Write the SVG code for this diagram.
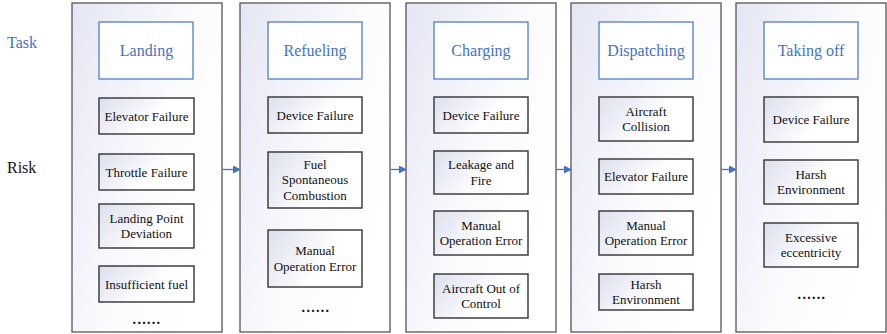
<svg xmlns="http://www.w3.org/2000/svg" width="887" height="334" viewBox="0 0 887 334">
<defs>
<linearGradient id="gOuter" x1="0" y1="0" x2="1" y2="0.6">
<stop offset="0" stop-color="#e4e6f4"/>
<stop offset="0.6" stop-color="#fbfbfe"/>
<stop offset="1" stop-color="#ffffff"/>
</linearGradient>
<linearGradient id="gRisk" x1="0" y1="0" x2="1" y2="0.4">
<stop offset="0" stop-color="#dcdfee"/>
<stop offset="0.7" stop-color="#ffffff"/>
<stop offset="1" stop-color="#ffffff"/>
</linearGradient>
<marker id="arr" markerWidth="8" markerHeight="8" refX="7" refY="4" orient="auto" markerUnits="userSpaceOnUse">
<path d="M0,0 L8,4 L0,8 Z" fill="#4472C4"/>
</marker>
<rect id="outerBox" width="150" height="329" fill="url(#gOuter)" stroke="#555" stroke-width="1.3"/>
<rect id="taskBox" width="94" height="57" fill="#fff" stroke="#4472C4" stroke-width="1.2"/>
</defs>
<text x="7" y="48" font-family="Liberation Serif" font-size="16" fill="#4472C4">Task</text>
<text x="7" y="173" font-family="Liberation Serif" font-size="16" fill="#111">Risk</text>

<g id="landing" fill="url(#gRisk)" stroke="#333" stroke-width="1.4">
<use href="#outerBox" x="72" y="3"/>
<use href="#taskBox" x="99" y="22"/>
<rect x="99" y="98" width="95" height="36"/>
<rect x="99" y="154" width="95" height="36"/>
<rect x="99" y="204" width="95" height="44"/>
<rect x="99" y="266" width="95" height="36"/>
<text x="146.5" y="55.5" font-family="Liberation Serif" font-size="16" fill="#4472C4" stroke="none" text-anchor="middle">Landing</text>
<text x="146.5" y="120.5" font-family="Liberation Serif" font-size="13" fill="#111" stroke="none" text-anchor="middle">Elevator Failure</text>
<text x="146.5" y="176.5" font-family="Liberation Serif" font-size="13" fill="#111" stroke="none" text-anchor="middle">Throttle Failure</text>
<text x="146.5" y="222.5" font-family="Liberation Serif" font-size="13" fill="#111" stroke="none" text-anchor="middle">Landing Point</text>
<text x="146.5" y="237.5" font-family="Liberation Serif" font-size="13" fill="#111" stroke="none" text-anchor="middle">Deviation</text>
<text x="146.5" y="288.5" font-family="Liberation Serif" font-size="13" fill="#111" stroke="none" text-anchor="middle">Insufficient fuel</text>
<text x="147" y="324" font-family="Liberation Serif" font-size="14" font-weight="bold" letter-spacing="1.3" fill="#111" stroke="none" text-anchor="middle">......</text>
</g>

<g id="refueling" fill="url(#gRisk)" stroke="#333" stroke-width="1.4">
<use href="#outerBox" x="240" y="3"/>
<use href="#taskBox" x="268" y="22"/>
<rect x="268" y="97" width="94" height="36"/>
<rect x="268" y="152" width="94" height="56"/>
<rect x="268" y="230" width="94" height="57"/>
<text x="315" y="55.5" font-family="Liberation Serif" font-size="16" fill="#4472C4" stroke="none" text-anchor="middle">Refueling</text>
<text x="315" y="119.5" font-family="Liberation Serif" font-size="13" fill="#111" stroke="none" text-anchor="middle">Device Failure</text>
<text x="315" y="168.5" font-family="Liberation Serif" font-size="13" fill="#111" stroke="none" text-anchor="middle">Fuel</text>
<text x="315" y="184" font-family="Liberation Serif" font-size="13" fill="#111" stroke="none" text-anchor="middle">Spontaneous</text>
<text x="315" y="199.5" font-family="Liberation Serif" font-size="13" fill="#111" stroke="none" text-anchor="middle">Combustion</text>
<text x="315" y="255" font-family="Liberation Serif" font-size="13" fill="#111" stroke="none" text-anchor="middle">Manual</text>
<text x="315" y="270.5" font-family="Liberation Serif" font-size="13" fill="#111" stroke="none" text-anchor="middle">Operation Error</text>
<text x="316" y="312" font-family="Liberation Serif" font-size="14" font-weight="bold" letter-spacing="1.3" fill="#111" stroke="none" text-anchor="middle">......</text>
</g>

<g id="charging" fill="url(#gRisk)" stroke="#333" stroke-width="1.4">
<use href="#outerBox" x="406" y="3"/>
<use href="#taskBox" x="434" y="22"/>
<rect x="434" y="97" width="94" height="36"/>
<rect x="434" y="151" width="94" height="43"/>
<rect x="434" y="211" width="94" height="44"/>
<rect x="434" y="274" width="94" height="44"/>
<text x="481" y="55.5" font-family="Liberation Serif" font-size="16" fill="#4472C4" stroke="none" text-anchor="middle">Charging</text>
<text x="481" y="119.5" font-family="Liberation Serif" font-size="13" fill="#111" stroke="none" text-anchor="middle">Device Failure</text>
<text x="481" y="168.5" font-family="Liberation Serif" font-size="13" fill="#111" stroke="none" text-anchor="middle">Leakage and</text>
<text x="481" y="184.5" font-family="Liberation Serif" font-size="13" fill="#111" stroke="none" text-anchor="middle">Fire</text>
<text x="481" y="229.5" font-family="Liberation Serif" font-size="13" fill="#111" stroke="none" text-anchor="middle">Manual</text>
<text x="481" y="245" font-family="Liberation Serif" font-size="13" fill="#111" stroke="none" text-anchor="middle">Operation Error</text>
<text x="481" y="292.5" font-family="Liberation Serif" font-size="13" fill="#111" stroke="none" text-anchor="middle">Aircraft Out of</text>
<text x="481" y="308" font-family="Liberation Serif" font-size="13" fill="#111" stroke="none" text-anchor="middle">Control</text>
</g>

<g id="dispatching" fill="url(#gRisk)" stroke="#333" stroke-width="1.4">
<use href="#outerBox" x="571" y="3"/>
<use href="#taskBox" x="599" y="22"/>
<rect x="599" y="97" width="94" height="44"/>
<rect x="599" y="159" width="94" height="35"/>
<rect x="599" y="211" width="94" height="44"/>
<rect x="599" y="274" width="94" height="36"/>
<text x="646" y="55.5" font-family="Liberation Serif" font-size="16" fill="#4472C4" stroke="none" text-anchor="middle">Dispatching</text>
<text x="646" y="115.5" font-family="Liberation Serif" font-size="13" fill="#111" stroke="none" text-anchor="middle">Aircraft</text>
<text x="646" y="131" font-family="Liberation Serif" font-size="13" fill="#111" stroke="none" text-anchor="middle">Collision</text>
<text x="646" y="180.5" font-family="Liberation Serif" font-size="13" fill="#111" stroke="none" text-anchor="middle">Elevator Failure</text>
<text x="646" y="229.5" font-family="Liberation Serif" font-size="13" fill="#111" stroke="none" text-anchor="middle">Manual</text>
<text x="646" y="245" font-family="Liberation Serif" font-size="13" fill="#111" stroke="none" text-anchor="middle">Operation Error</text>
<text x="646" y="288.5" font-family="Liberation Serif" font-size="13" fill="#111" stroke="none" text-anchor="middle">Harsh</text>
<text x="646" y="304" font-family="Liberation Serif" font-size="13" fill="#111" stroke="none" text-anchor="middle">Environment</text>
</g>

<g id="takingoff" fill="url(#gRisk)" stroke="#333" stroke-width="1.4">
<use href="#outerBox" x="736" y="3"/>
<use href="#taskBox" x="764" y="22"/>
<rect x="764" y="97" width="94" height="45"/>
<rect x="764" y="160" width="94" height="44"/>
<rect x="764" y="223" width="94" height="44"/>
<text x="811" y="55.5" font-family="Liberation Serif" font-size="16" fill="#4472C4" stroke="none" text-anchor="middle">Taking off</text>
<text x="811" y="123.5" font-family="Liberation Serif" font-size="13" fill="#111" stroke="none" text-anchor="middle">Device Failure</text>
<text x="811" y="178.5" font-family="Liberation Serif" font-size="13" fill="#111" stroke="none" text-anchor="middle">Harsh</text>
<text x="811" y="194" font-family="Liberation Serif" font-size="13" fill="#111" stroke="none" text-anchor="middle">Environment</text>
<text x="811" y="241.5" font-family="Liberation Serif" font-size="13" fill="#111" stroke="none" text-anchor="middle">Excessive</text>
<text x="811" y="257" font-family="Liberation Serif" font-size="13" fill="#111" stroke="none" text-anchor="middle">eccentricity</text>
<text x="812" y="299" font-family="Liberation Serif" font-size="14" font-weight="bold" letter-spacing="1.3" fill="#111" stroke="none" text-anchor="middle">......</text>
</g>

<g id="connectors" stroke="#4472C4" stroke-width="1.3" fill="none">
<line x1="222" y1="169.5" x2="240" y2="169.5" marker-end="url(#arr)"/>
<line x1="391" y1="169.5" x2="406" y2="169.5" marker-end="url(#arr)"/>
<line x1="556" y1="169.5" x2="571" y2="169.5" marker-end="url(#arr)"/>
<line x1="721" y1="169.5" x2="736" y2="169.5" marker-end="url(#arr)"/>
</g>
</svg>
